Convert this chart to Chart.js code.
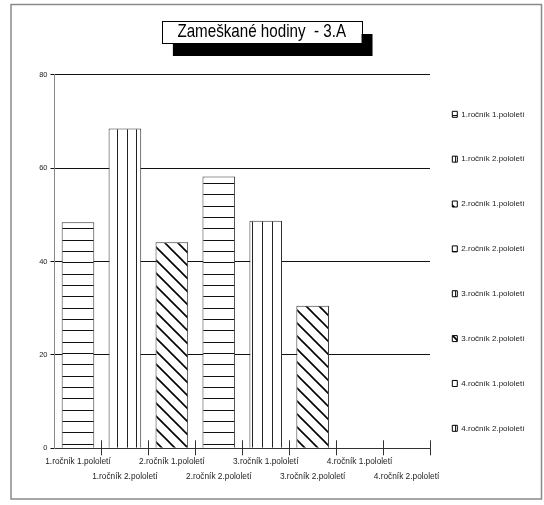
<!DOCTYPE html>
<html><head><meta charset="utf-8">
<script src="https://cdn.jsdelivr.net/npm/chart.js@4/dist/chart.umd.min.js"></script>
<style>html,body{margin:0;padding:0;background:#fff;}</style>
</head><body>
<canvas id="c" width="544" height="505" style="display:block;width:544px;height:505px"></canvas>
<script>
const categories = ['1.ročník 1.pololetí','1.ročník 2.pololetí','2.ročník 1.pololetí','2.ročník 2.pololetí','3.ročník 1.pololetí','3.ročník 2.pololetí','4.ročník 1.pololetí','4.ročník 2.pololetí'];
const hours = [48.4, 68.5, 44.1, 58.2, 48.7, 30.5, null, null];
const yTicks = [0, 20, 40, 60, 80];
const chartTitle = 'Zameškané hodiny  - 3.A';

const baseFont = 'Arial, "Liberation Sans", sans-serif';
const titleFont = 'Arial, "Liberation Sans", sans-serif';
const TITLE_SQUEEZE = 0.82;
const LEGEND_PAD = 36.86, LEGEND_BOX = 5, LEGEND_FONT = 8;
const PLOT_RIGHT = 430;

function makePattern(kind){
  const c = document.createElement('canvas');
  const x = c.getContext('2d');
  if (kind === 'h') {
    c.width = 8; c.height = 34;
    x.fillStyle = '#fff'; x.fillRect(0,0,8,34);
    x.fillStyle = '#111';
    [2,13,24].forEach(y => x.fillRect(0,y,8,1));
  } else if (kind === 'v') {
    c.width = 29; c.height = 8;
    x.fillStyle = '#fff'; x.fillRect(0,0,29,8);
    x.fillStyle = '#222';
    [1,11,20].forEach(v => x.fillRect(v,0,1,8));
  } else {
    const s = 13;
    c.width = s; c.height = s;
    x.fillStyle = '#fff'; x.fillRect(0,0,s,s);
    x.strokeStyle = '#000'; x.lineWidth = 1.6;
    x.beginPath();
    [-1,0,1].forEach(k => { x.moveTo(-2, -2 + k*s); x.lineTo(s+2, s+2 + k*s); });
    x.stroke();
  }
  return x.createPattern(c, 'repeat');
}
const patterns = [makePattern('h'), makePattern('v'), makePattern('d')];

// natural legend width (Chart.js adds 10px to vertical legends)
const mctx = document.createElement('canvas').getContext('2d');
mctx.font = LEGEND_FONT + 'px ' + baseFont;
const maxLegendText = Math.max(...categories.map(c => mctx.measureText(c).width));
const legendWidth = LEGEND_PAD + LEGEND_BOX + LEGEND_FONT / 2 + maxLegendText + 10;
const padRight = 544 - PLOT_RIGHT - legendWidth;

const framePlugin = {
  id: 'frame',
  afterLayout(chart){
    const lg = chart.legend;
    if (lg) {
      const p = lg.options.labels.padding;
      const w = lg.width, h = lg.height;
      lg.left = 452.3 - p; lg.right = lg.left + w;
      lg.top = 110.3 - p; lg.bottom = lg.top + h;
    }
    const t = chart.titleBlock;
    if (t) {
      const dx = 261.7 - (t.left + t.right) / 2;
      t.left += dx; t.right += dx;
      if (!t._squeezed) {
        const orig = t.draw;
        t.draw = function(){
          const ctx = this.ctx;
          const cx = (this.left + this.right) / 2;
          ctx.save();
          ctx.translate(cx, 0); ctx.scale(TITLE_SQUEEZE, 1); ctx.translate(-cx, 0);
          orig.apply(this, arguments);
          ctx.restore();
        };
        t._squeezed = true;
      }
    }
  },
  beforeDraw(chart){
    const ctx = chart.ctx;
    ctx.save();
    ctx.fillStyle = '#fff'; ctx.fillRect(0,0,chart.width,chart.height);
    ctx.strokeStyle = '#8a8a8a'; ctx.lineWidth = 1.5;
    ctx.strokeRect(11, 4.5, 530.5, 494.5);
    const t = chart.titleBlock;
    const o = t.options;
    const f = o.font;
    ctx.font = 'normal ' + f.size + 'px ' + f.family;
    const w = ctx.measureText(o.text).width * TITLE_SQUEEZE;
    const lh = f.size * f.lineHeight;
    const cx = (t.left + t.right) / 2;
    const top = t.top + o.padding.top;
    const bx = cx - w/2 - 15.5, bw = w + 31;
    ctx.fillStyle = '#000';
    ctx.fillRect(bx + 11, top + 12.7, bw, lh);
    ctx.fillStyle = '#fff';
    ctx.fillRect(bx, top, bw, lh);
    ctx.strokeStyle = '#000'; ctx.lineWidth = 1;
    ctx.strokeRect(Math.round(bx)+0.5, Math.round(top)+0.5, Math.round(bw), Math.round(lh));
    ctx.restore();
  },
  afterDraw(chart){
    const ctx = chart.ctx;
    const xs = chart.scales.x;
    const yb = chart.chartArea.bottom;
    ctx.save();
    ctx.strokeStyle = '#333'; ctx.lineWidth = 1;
    ctx.beginPath();
    for (let i = 1; i <= categories.length; i++) {
      const px = i < categories.length ? (xs.getPixelForValue(i-1) + xs.getPixelForValue(i)) / 2 : xs.right;
      const ax = Math.round(px) + 0.5;
      ctx.moveTo(ax, yb - 8); ctx.lineTo(ax, yb);
    }
    ctx.stroke();
    ctx.restore();
  }
};

const chart = new Chart(document.getElementById('c'), {
  type: 'bar',
  data: {
    labels: categories,
    datasets: [{
      label: 'Zameškané hodiny',
      data: hours,
      backgroundColor: categories.map((_, i) => patterns[i % 3]),
      borderColor: '#333',
      borderWidth: 1,
      categoryPercentage: 1,
      barPercentage: 0.695
    }]
  },
  options: {
    responsive: false,
    animation: false,
    devicePixelRatio: 1,
    layout: { padding: { left: 0, right: padRight, top: 0, bottom: 0 } },
    plugins: {
      title: {
        display: true,
        text: chartTitle,
        color: '#000',
        font: { family: titleFont, size: 18.5, weight: 'normal', lineHeight: 22/18.5 },
        padding: { top: 21.3, bottom: 31.4 }
      },
      legend: {
        display: true,
        position: 'right',
        align: 'start',
        labels: {
          boxWidth: LEGEND_BOX,
          boxHeight: 6,
          padding: LEGEND_PAD,
          color: '#222',
          font: { family: baseFont, size: LEGEND_FONT },
          generateLabels: () => categories.map((c, i) => ({
            text: c, fillStyle: patterns[i % 3], strokeStyle: '#000', lineWidth: 1,
            hidden: false, index: i, datasetIndex: 0, fontColor: '#222'
          }))
        }
      },
      tooltip: { enabled: false }
    },
    scales: {
      x: {
        offset: true,
        grid: {
          display: true, drawOnChartArea: false, drawTicks: true, tickLength: 7, offset: true,
          color: c => c.index === 0 ? 'rgba(0,0,0,0)' : '#333'
        },
        border: { display: true, color: '#333', width: 1 },
        ticks: {
          autoSkip: false, maxRotation: 0, minRotation: 0, padding: -1.1, color: '#222',
          font: { family: baseFont, size: 8.3, lineHeight: 1.83 },
          callback: (v, i) => i % 2 ? ['', categories[i]] : categories[i]
        },
        afterFit: s => { s.height = 56.7; }
      },
      y: {
        min: 0, max: 80,
        afterBuildTicks: s => { s.ticks = yTicks.map(v => ({ value: v })); },
        ticks: { padding: 3, color: '#222', font: { family: baseFont, size: 7.5 } },
        grid: { color: '#111', lineWidth: 1, tickLength: 4, drawTicks: true },
        border: { display: true, color: '#888', width: 1 },
        afterFit: s => { s.width = 54.5; }
      }
    }
  },
  plugins: [framePlugin]
});

// fine-tune: make the plot area end exactly where the reference's does
const miss = PLOT_RIGHT - chart.chartArea.right;
if (Math.abs(miss) > 0.25) {
  chart.options.layout.padding.right = padRight - miss;
  chart.update('none');
}
</script>
</body></html>
